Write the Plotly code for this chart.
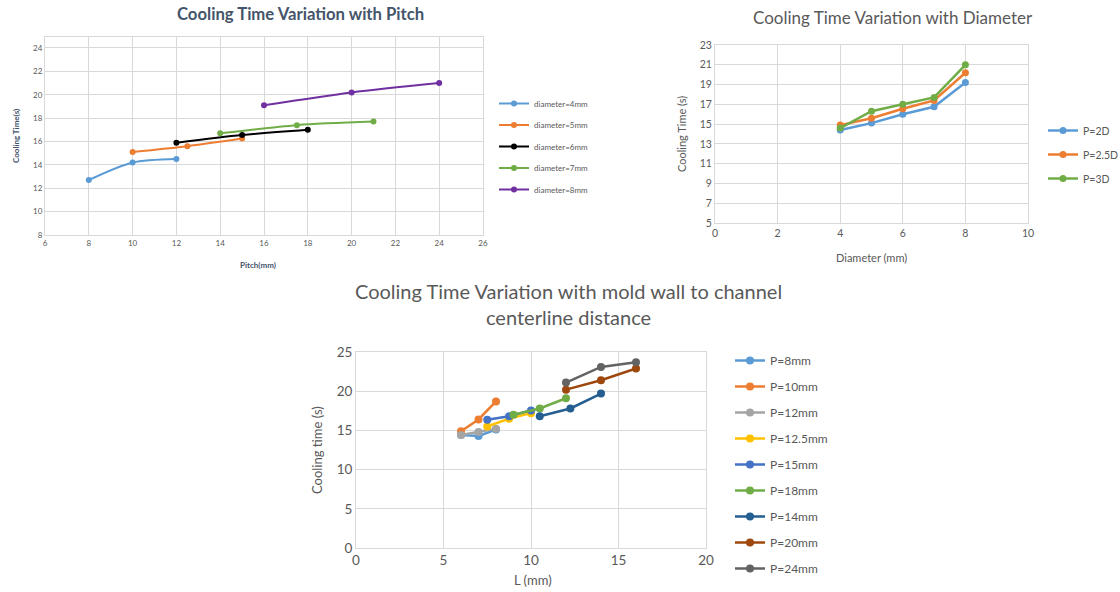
import plotly.graph_objects as go

W, H = 1120, 592

# ---------- Chart 1: Cooling time vs pitch ----------
pitch_names = ["diameter=4mm", "diameter=5mm", "diameter=6mm", "diameter=7mm", "diameter=8mm"]
pitch_x = [[8, 10, 12], [10, 12.5, 15], [12, 15, 18], [14, 17.5, 21], [16, 20, 24]]
pitch_y = [[12.7, 14.2, 14.5], [15.1, 15.6, 16.25], [15.9, 16.55, 17.0], [16.7, 17.4, 17.7], [19.1, 20.2, 21.0]]
pitch_colors = ["#5B9BD5", "#ED7D31", "#000000", "#70AD47", "#7030A0"]

# ---------- Chart 2: Cooling time vs diameter ----------
dia_names = ["P=2D", "P=2.5D", "P=3D"]
dia_x = [4, 5, 6, 7, 8]
dia_y = [[14.4, 15.1, 16.0, 16.75, 19.2], [14.9, 15.6, 16.55, 17.4, 20.2], [14.6, 16.3, 17.0, 17.7, 21.0]]
dia_colors = ["#5B9BD5", "#ED7D31", "#70AD47"]

# ---------- Chart 3: Cooling time vs L ----------
L_names = ["P=8mm", "P=10mm", "P=12mm", "P=12.5mm", "P=15mm", "P=18mm", "P=14mm", "P=20mm", "P=24mm"]
L_x = [[6, 7, 8], [6, 7, 8], [6, 7, 8], [7.5, 8.75, 10], [7.5, 8.75, 10],
       [9, 10.5, 12], [10.5, 12.25, 14], [12, 14, 16], [12, 14, 16]]
L_y = [[14.4, 14.3, 15.1], [14.9, 16.4, 18.7], [14.4, 14.8, 15.2], [15.5, 16.5, 17.2], [16.35, 16.8, 17.55],
       [17.0, 17.8, 19.1], [16.8, 17.8, 19.7], [20.2, 21.4, 22.9], [21.1, 23.1, 23.7]]
L_colors = ["#5B9BD5", "#ED7D31", "#A5A5A5", "#FFC000", "#4472C4", "#70AD47", "#255E91", "#9E480E", "#636363"]

FONT = "Lato"
GRAY = "#595959"
DARK = "#44546A"
GRID = "#D9D9D9"

fig = go.Figure()

for i, n in enumerate(pitch_names):
    fig.add_trace(go.Scatter(
        x=pitch_x[i], y=pitch_y[i], name=n, mode="lines+markers",
        line=dict(color=pitch_colors[i], width=2, shape="spline", smoothing=0.8),
        marker=dict(color=pitch_colors[i], size=6),
        xaxis="x", yaxis="y", legend="legend", legendgroup="a%d" % i))

for i, n in enumerate(dia_names):
    fig.add_trace(go.Scatter(
        x=dia_x, y=dia_y[i], name=n, mode="lines+markers",
        line=dict(color=dia_colors[i], width=2.5),
        marker=dict(color=dia_colors[i], size=7),
        xaxis="x2", yaxis="y2", legend="legend2", legendgroup="b%d" % i))

for i, n in enumerate(L_names):
    fig.add_trace(go.Scatter(
        x=L_x[i], y=L_y[i], name=n, mode="lines+markers",
        line=dict(color=L_colors[i], width=2.5),
        marker=dict(color=L_colors[i], size=8),
        xaxis="x3", yaxis="y3", legend="legend3", legendgroup="c%d" % i))


def px(x):
    return x / W


def py(y):
    return 1 - y / H


def axis(dom, anchor, rng, dtick, size, tick0=0):
    return dict(domain=dom, anchor=anchor, range=rng, dtick=dtick, tick0=tick0,
                showgrid=True, gridcolor=GRID, gridwidth=1,
                showline=True, linecolor=GRID, linewidth=1, mirror=True,
                zeroline=False, ticks="", tickfont=dict(family=FONT, size=size, color=GRAY),
                fixedrange=True)


fig.update_layout(
    width=W, height=H, margin=dict(l=0, r=0, t=0, b=0, autoexpand=False),
    paper_bgcolor="white", plot_bgcolor="white",
    font=dict(family=FONT, color=GRAY),
    xaxis=axis([px(45), px(483)], "y", [6, 26], 2, 8),
    yaxis=axis([py(235), py(37)], "x", [8, 24.94], 2, 8),
    xaxis2=axis([px(715), px(1028)], "y2", [0, 10], 2, 10.5),
    yaxis2=axis([py(223), py(45)], "x2", [5, 23], 2, 10.5, tick0=5),
    xaxis3=axis([px(356), px(706)], "y3", [0, 20], 5, 13.5),
    yaxis3=axis([py(548), py(352)], "x3", [0, 25], 5, 13.5),
    legend=dict(x=px(494), y=py(89), xanchor="left", yanchor="top",
                font=dict(family=FONT, size=8, color=GRAY), tracegroupgap=2.5,
                traceorder="grouped", itemwidth=30, bgcolor="rgba(0,0,0,0)"),
    legend2=dict(x=px(1043), y=py(116), xanchor="left", yanchor="top",
                 font=dict(family=FONT, size=10.5, color=GRAY), tracegroupgap=5,
                 traceorder="grouped", itemwidth=30, bgcolor="rgba(0,0,0,0)"),
    legend3=dict(x=px(730), y=py(346), xanchor="left", yanchor="top",
                 font=dict(family=FONT, size=12, color=GRAY), tracegroupgap=7,
                 traceorder="grouped", itemwidth=30, bgcolor="rgba(0,0,0,0)"),
)

ann = [
    dict(text="<b>Cooling Time Variation with Pitch</b>", x=px(300), y=py(14), size=16.7, color=DARK),
    dict(text="<b>Pitch(mm)</b>", x=px(258), y=py(265), size=8, color=DARK),
    dict(text="<b>Cooling Time(s)</b>", x=px(16), y=py(136), size=8, angle=-90, color=DARK),
    dict(text="Cooling Time Variation with Diameter", x=px(893), y=py(18), size=17),
    dict(text="Diameter (mm)", x=px(871), y=py(258), size=11),
    dict(text="Cooling Time (s)", x=px(682), y=py(134), size=11, angle=-90),
    dict(text="Cooling Time Variation with mold wall to channel<br>centerline distance",
         x=px(568), y=py(304), size=20),
    dict(text="L (mm)", x=px(533), y=py(580), size=13),
    dict(text="Cooling time (s)", x=px(317), y=py(450), size=13, angle=-90),
]
for a in ann:
    fig.add_annotation(text=a["text"], x=a["x"], y=a["y"], xref="paper", yref="paper",
                       xanchor="center", yanchor="middle", showarrow=False,
                       textangle=a.get("angle", 0),
                       font=dict(family=FONT, size=a["size"], color=a.get("color", GRAY)))

fig.write_html("out.html", config={"displayModeBar": False},
               post_script="document.body.style.margin='0';document.body.style.overflow='hidden';")
